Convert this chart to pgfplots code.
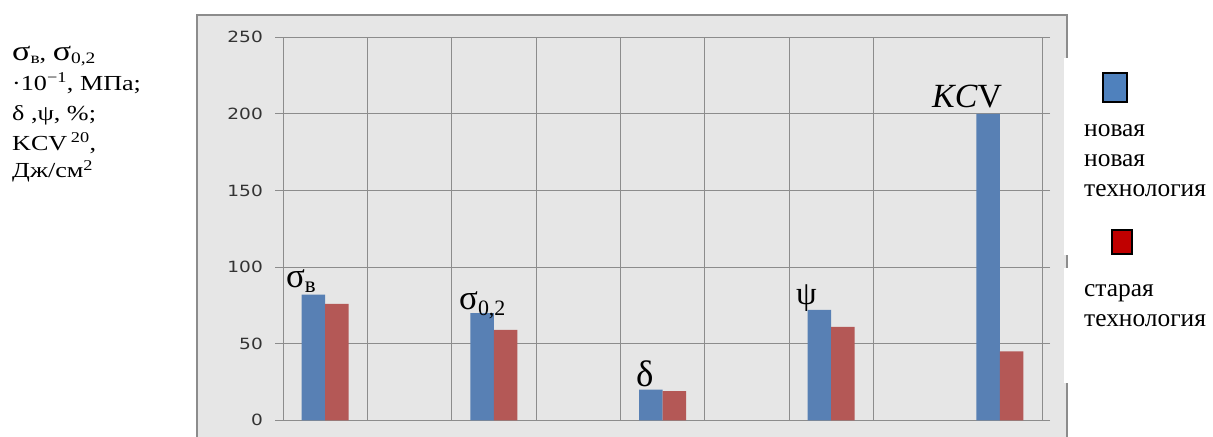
\documentclass[border=0pt]{standalone}
\usepackage{fontspec}
\setmainfont{Liberation Serif}
\newfontfamily\tickfont[FakeStretch=1.2]{DejaVu Sans}
\newfontfamily\lblfont[FakeStretch=1.22]{Liberation Serif}
\usepackage{pgfplots}
\pgfplotsset{compat=1.18}
\definecolor{bgc}{HTML}{E6E6E6}
\definecolor{gridc}{HTML}{8C8C8C}
\definecolor{bblue}{RGB}{88,128,180}
\definecolor{bred}{RGB}{180,88,86}
\definecolor{legblue}{HTML}{4F81BD}
\definecolor{legred}{HTML}{C00000}
\begin{document}
\begin{tikzpicture}[x=1bp,y=1bp]
\path[use as bounding box, fill=white] (0,0) rectangle (1213,-437);
\fill[bgc] (197,-15) rectangle (1067,-437);
\draw[gridc, line width=2bp] (197,-437) -- (197,-15) -- (1067,-15) -- (1067,-437);
\begin{axis}[
  at={(283bp,-420.3bp)}, anchor=south west,
  scale only axis, width=759bp, height=383bp,
  xmin=0, xmax=9, ymin=0, ymax=250,
  axis line style={draw=gridc, line width=1bp},
  ytick={0,50,100,150,200,250},
  xtick={0,2,3,4,5,7,9}, xticklabels={},
  extra x ticks={1,6}, extra x tick labels={},
  extra x tick style={grid style={draw=gridc, line width=2bp}, tick style={draw=none}},
  xtick style={draw=none},
  ytick style={draw=gridc, line width=1bp},
  tick align=outside, major tick length=8bp,
  xmajorgrids, ymajorgrids,
  major grid style={draw=gridc, line width=1bp},
  yticklabel style={font=\tickfont\fontsize{15.5}{15.5}\selectfont, text=black!80, inner sep=0pt, xshift=-12bp},
  /pgf/number format/assume math mode=true,
  ybar=0pt, bar width=23.5bp,
]
\addplot[fill=bblue, draw=none] coordinates {(0.5,82) (2.5,70) (4.5,20) (6.5,72) (8.5,200)};
\addplot[fill=bred, draw=none] coordinates {(0.5,76) (2.5,59) (4.5,19) (6.5,61) (8.5,45)};
\end{axis}
% labels above bars
\node[anchor=base west, inner sep=0] at (286,-288) {\fontsize{35}{35}\selectfont σ\raisebox{-5bp}{\fontsize{23}{23}\selectfont в}};
\node[anchor=base west, inner sep=0] at (459,-310) {\fontsize{35}{35}\selectfont σ\raisebox{-6bp}{\fontsize{22}{22}\selectfont 0,2}};
\node[anchor=base west, inner sep=0] at (636,-387) {\fontsize{37}{37}\selectfont δ};
\node[anchor=base west, inner sep=0] at (796,-305) {\fontsize{33}{33}\selectfont ψ};
\node[anchor=base west, inner sep=0] at (932,-108) {\fontsize{34}{34}\selectfont \textit{KC}V};
% y-axis description
\node[anchor=base west, inner sep=0, align=left, font=\lblfont\fontsize{21.5}{30}\selectfont] at (12,-178) {%
{\fontsize{28}{30}\selectfont σ}\raisebox{-3bp}{\fontsize{16}{16}\selectfont в}, {\fontsize{28}{30}\selectfont σ}\raisebox{-3bp}{\fontsize{16}{16}\selectfont 0,2}\\
·10\textsuperscript{−1}, МПа;\\
δ ,ψ, \%;\\
KCV\,\textsuperscript{20},\\[-2bp]
Дж/см\textsuperscript{2}};
% legend area
\fill[white] (1064,-58) rectangle (1213,-255);
\fill[white] (1064,-268) rectangle (1213,-383);
\filldraw[fill=legblue, draw=black, line width=1.5bp] (1103,-73) rectangle (1127,-102);
\filldraw[fill=legred, draw=black, line width=1.5bp] (1112,-230) rectangle (1132,-254);
\node[anchor=base west, inner sep=0, align=left, font=\fontsize{25.5}{30.5}\selectfont] at (1084,-197) {новая\\ новая\\ технология};
\node[anchor=base west, inner sep=0, align=left, font=\fontsize{25.5}{31}\selectfont] at (1084,-327) {старая\\ технология};
\end{tikzpicture}
\end{document}
